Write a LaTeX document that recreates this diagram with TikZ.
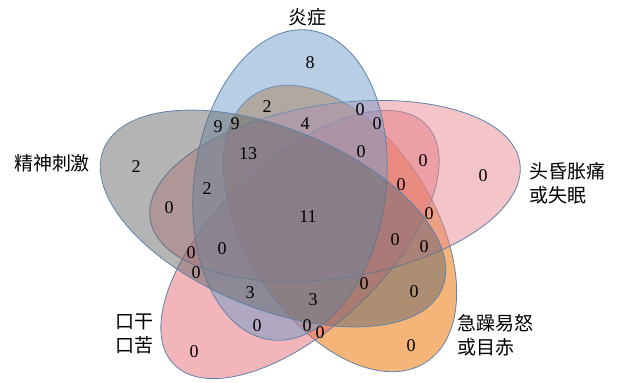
\documentclass[tikz,border=0pt]{standalone}
\usepackage{fontspec}
\setmainfont{Liberation Serif}
\newfontfamily\cjk{Noto Sans CJK SC}
\definecolor{blueC}{RGB}{111,157,201}
\definecolor{pinkC}{RGB}{231,137,145}
\definecolor{orangeC}{RGB}{237,120,10}
\definecolor{redC}{RGB}{229,107,115}
\definecolor{greyC}{RGB}{105,105,108}
\definecolor{edgeC}{RGB}{95,130,170}
\tikzset{
  vset/.style={draw=edgeC, line width=0.8pt, fill opacity=0.5},
  num/.style={font=\fontsize{18}{18}\selectfont, inner sep=0pt},
  lab/.style={font=\cjk\fontsize{19}{24}\selectfont, inner sep=0pt}
}
\begin{document}
\begin{tikzpicture}[x=1pt,y=-1pt]
\useasboundingbox (0,0) rectangle (619,383);
% ellipses
\path[vset, fill=orangeC, fill opacity=0.55] [shift={(340,228.5)}, rotate=-57.4] (0,0) ellipse [x radius=159pt, y radius=94pt];
\path[vset, fill=redC] [shift={(300,244.5)}, rotate=43.3] (0,0) ellipse [x radius=174pt, y radius=84pt];
\path[vset, fill=pinkC] [shift={(335,191)}, rotate=8.7] (0,0) ellipse [x radius=187pt, y radius=87pt];
\path[vset, fill=blueC] [shift={(290,185)}, rotate=83] (0,0) ellipse [x radius=156pt, y radius=96pt];
\path[vset, fill=greyC] [shift={(273,218.5)}, rotate=-22.3] (0,0) ellipse [x radius=183pt, y radius=90pt];
% labels
\node[lab] (lA) at (307,17) {炎症};
\node[lab] (lE) at (52,163) {精神刺激};
\node[lab, anchor=west, align=left] (lB) at (529,183) {头昏胀痛\\或失眠};
\node[lab, anchor=west, align=left] (lC) at (457,335) {急躁易怒\\或目赤};
\node[lab, anchor=east, align=right] (lD) at (154,334) {口干\\口苦};
% numbers
\node[num] (n1) at (310,63) {8};
\node[num] (n2) at (267,107) {2};
\node[num] (n3) at (360,110) {0};
\node[num] (n4) at (218,127) {9};
\node[num] (n5) at (235,124) {9};
\node[num] (n6) at (305,124) {4};
\node[num] (n7) at (377,124) {0};
\node[num] (n8) at (248,154) {13};
\node[num] (n9) at (361,152) {0};
\node[num] (n10) at (136,167) {2};
\node[num] (n11) at (423,161) {0};
\node[num] (n12) at (483,176) {0};
\node[num] (n13) at (207,189) {2};
\node[num] (n14) at (401,185) {0};
\node[num] (n15) at (169,208) {0};
\node[num] (n16) at (308,217) {11};
\node[num] (n17) at (429,214) {0};
\node[num] (n18) at (395,240) {0};
\node[num] (n19) at (424,247) {0};
\node[num] (n20) at (222,249) {0};
\node[num] (n21) at (191,253) {0};
\node[num] (n22) at (196,273) {0};
\node[num] (n23) at (250,293) {3};
\node[num] (n24) at (313,300) {3};
\node[num] (n25) at (364,284) {0};
\node[num] (n26) at (414,292) {0};
\node[num] (n27) at (257,326) {0};
\node[num] (n28) at (307,326) {0};
\node[num] (n29) at (320,333) {0};
\node[num] (n30) at (194,352) {0};
\node[num] (n31) at (411,346) {0};
\end{tikzpicture}
\end{document}
